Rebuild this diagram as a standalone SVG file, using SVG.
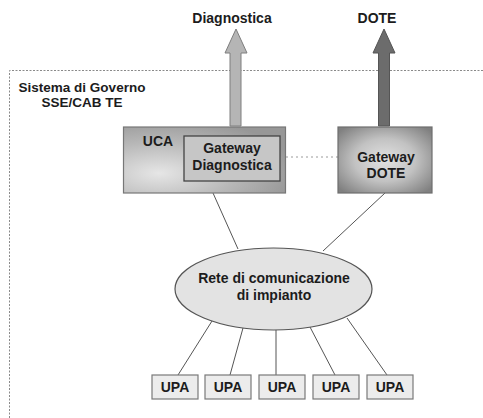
<svg xmlns="http://www.w3.org/2000/svg" width="483" height="418" viewBox="0 0 483 418">
  <style>
    text { font-family: "Liberation Sans", Arial, sans-serif; font-weight: bold; fill: #1c1c1c; text-anchor: middle; }
    .t14 { font-size: 14px; }
    .frame { fill: none; stroke: #8a8a8a; stroke-width: 1; stroke-dasharray: 2 1.5; }
    .link { stroke: #555; stroke-width: 1; fill: none; }
    .dotted { stroke: #9a9a9a; stroke-width: 1; stroke-dasharray: 2 3; fill: none; }
    .upa rect { fill: #ececec; stroke: #7a7a7a; stroke-width: 1.2; }
  </style>
  <defs>
    <radialGradient id="ucaFill" cx="0.22" cy="0.7" r="0.85">
      <stop offset="0" stop-color="#e6e6e6"/>
      <stop offset="0.55" stop-color="#b8b8b8"/>
      <stop offset="1" stop-color="#979797"/>
    </radialGradient>
    <radialGradient id="doteFill" cx="0.5" cy="0.5" r="0.65">
      <stop offset="0" stop-color="#e2e2e2"/>
      <stop offset="0.5" stop-color="#c2c2c2"/>
      <stop offset="1" stop-color="#808080"/>
    </radialGradient>
  </defs>

  <!-- system boundary -->
  <g id="sistema">
    <path class="frame" d="M9.5,418 V70.5 H483"/>
    <text x="82" y="92" style="font-size:13.5px">Sistema di Governo</text>
    <text x="82" y="107" style="font-size:13.5px">SSE/CAB TE</text>
  </g>

  <!-- outgoing block arrows -->
  <g id="out-diagnostica">
    <polygon points="230,126 230,53 225,53 236,29 247,53 241,53 241,126" fill="#b5b5b5" stroke="#7e7e7e" stroke-width="1"/>
    <text class="t14" x="232" y="23">Diagnostica</text>
  </g>
  <g id="out-dote">
    <polygon points="378.5,126 378.5,53 373,53 384,29 395,53 389.5,53 389.5,126" fill="#6c6c6c" stroke="#555" stroke-width="1"/>
    <text class="t14" x="377" y="23">DOTE</text>
  </g>

  <!-- connectors -->
  <g id="connectors">
    <line class="dotted" x1="286" y1="157" x2="338" y2="157"/>
    <line class="link" x1="213" y1="193" x2="238" y2="249"/>
    <line class="link" x1="385" y1="193" x2="323" y2="251"/>
    <line class="link" x1="212" y1="321" x2="178" y2="375"/>
    <line class="link" x1="243" y1="328" x2="230" y2="375"/>
    <line class="link" x1="276" y1="330" x2="276" y2="375"/>
    <line class="link" x1="310" y1="327" x2="335" y2="375"/>
    <line class="link" x1="347" y1="318" x2="387" y2="375"/>
  </g>

  <g id="uca">
    <rect x="123.5" y="127" width="162" height="66" fill="url(#ucaFill)" stroke="#777" stroke-width="1.2"/>
    <text class="t14" x="158" y="146">UCA</text>
  </g>

  <g id="gateway-diagnostica">
    <rect x="184" y="136" width="96" height="45" fill="#c6c6c6" stroke="#444" stroke-width="1.3"/>
    <text class="t14" x="232" y="153">Gateway</text>
    <text class="t14" x="232" y="170">Diagnostica</text>
  </g>

  <g id="gateway-dote">
    <rect x="338" y="127" width="94" height="66" fill="url(#doteFill)" stroke="#6e6e6e" stroke-width="1.2"/>
    <text class="t14" x="386" y="162">Gateway</text>
    <text class="t14" x="386" y="178">DOTE</text>
  </g>

  <g id="rete">
    <ellipse cx="273.5" cy="289" rx="98.5" ry="41" fill="#e3e3e3" stroke="#555" stroke-width="1.2"/>
    <text class="t14" x="274" y="283">Rete di comunicazione</text>
    <text class="t14" x="274" y="300">di impianto</text>
  </g>

  <g id="upa-1" class="upa">
    <rect x="152" y="375" width="46" height="24"/>
    <text class="t14" x="175" y="392">UPA</text>
  </g>
  <g id="upa-2" class="upa">
    <rect x="205" y="375" width="46" height="24"/>
    <text class="t14" x="228" y="392">UPA</text>
  </g>
  <g id="upa-3" class="upa">
    <rect x="259" y="375" width="46" height="24"/>
    <text class="t14" x="282" y="392">UPA</text>
  </g>
  <g id="upa-4" class="upa">
    <rect x="313" y="375" width="46" height="24"/>
    <text class="t14" x="336" y="392">UPA</text>
  </g>
  <g id="upa-5" class="upa">
    <rect x="367" y="375" width="46" height="24"/>
    <text class="t14" x="390" y="392">UPA</text>
  </g>
</svg>
